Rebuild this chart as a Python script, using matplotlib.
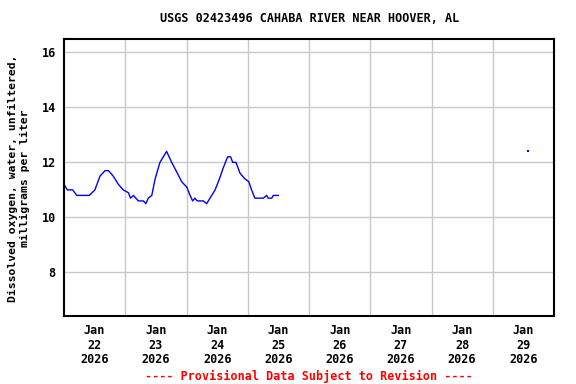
import matplotlib
matplotlib.use("Agg")
import matplotlib.pyplot as plt
import matplotlib.dates as mdates
import numpy as np
from datetime import datetime, timedelta

# Data: hours after 2026-01-22 00:00 and dissolved oxygen (mg/L)
hours = [0.0, 1.3, 3.4, 5.0, 9.9, 12.1, 14.1, 16.1, 17.4, 19.3, 21.3, 23.2,
         25.2, 26.1, 27.2, 29.1, 31.1, 32.1, 33.0, 34.4, 35.7, 37.6, 38.9,
         40.2, 42.2, 43.9, 46.1, 48.1, 49.4, 50.4, 51.3, 52.2, 54.6, 55.9,
         57.2, 59.2, 60.9, 62.4, 64.1, 65.3, 66.1, 67.4, 69.0, 70.9, 72.4,
         73.5, 74.8, 78.1, 79.4, 80.0, 81.4, 82.0, 84.0]
values = [11.2, 11.0, 11.0, 10.8, 10.8, 11.0, 11.5, 11.7, 11.7, 11.5, 11.2, 11.0,
          10.9, 10.7, 10.8, 10.6, 10.6, 10.5, 10.7, 10.8, 11.4, 12.0, 12.2,
          12.4, 12.0, 11.7, 11.3, 11.1, 10.8, 10.6, 10.7, 10.6, 10.6, 10.5,
          10.7, 11.0, 11.4, 11.8, 12.2, 12.2, 12.0, 12.0, 11.6, 11.4, 11.3,
          11.0, 10.7, 10.7, 10.8, 10.7, 10.7, 10.8, 10.8]
iso_hours = [182.0]
iso_values = [12.4]

y_ticks = [8, 10, 12, 14, 16]
x_days = [22, 23, 24, 25, 26, 27, 28, 29]

start = datetime(2026, 1, 22)
t = [start + timedelta(hours=h) for h in hours]
t_iso = [start + timedelta(hours=h) for h in iso_hours]

font = "DejaVu Sans Mono"
fs = 8.5

fig = plt.figure(figsize=(5.76, 3.84), dpi=100)
ax = fig.add_axes([64/576, 1-316/384, (554-64)/576, (316-39.3)/384])

ax.plot(t, values, color="#0000ff", lw=1.0)
ax.plot(t_iso, iso_values, marker="s", ms=1.6, mew=0, color="#0000ff", ls="none")

ax.set_xlim(start, start + timedelta(days=8))
ax.set_ylim(6.42, 16.47)

ax.set_yticks(y_ticks)
ax.set_yticklabels([str(v) for v in y_ticks], fontfamily=font, fontweight="bold", fontsize=fs)

major = [datetime(2026, 1, d, 12) for d in x_days]
ax.set_xticks(major)
ax.set_xticklabels([f"Jan\n{d}\n2026" for d in x_days], fontfamily=font,
                   fontweight="bold", fontsize=fs, linespacing=1.15)
minor = [datetime(2026, 1, d) for d in range(23, 30)]
ax.set_xticks(minor, minor=True)

ax.grid(False)
ax.grid(True, which="minor", axis="x", color="#c8c8c8", lw=1.0)
ax.grid(True, which="major", axis="y", color="#c8c8c8", lw=1.0)
ax.tick_params(axis="both", which="both", length=0, pad=6)

for s in ax.spines.values():
    s.set_linewidth(1.5)
    s.set_color("black")

fig.text(19/576, 1-178/384, "Dissolved oxygen, water, unfiltered,\nmilligrams per liter",
         rotation=90, ha="center", va="center", multialignment="center",
         fontfamily=font, fontweight="bold", fontsize=8.2, linespacing=1.3)

fig.text(310/576, 1-19/384, "USGS 02423496 CAHABA RIVER NEAR HOOVER, AL",
         ha="center", va="center", fontfamily=font, fontweight="bold", fontsize=fs)
fig.text(309/576, 1-376/384, "---- Provisional Data Subject to Revision ----",
         ha="center", va="center", fontfamily=font, fontweight="bold", fontsize=fs,
         color="#ff0000")

fig.savefig("out.png", dpi=100)
